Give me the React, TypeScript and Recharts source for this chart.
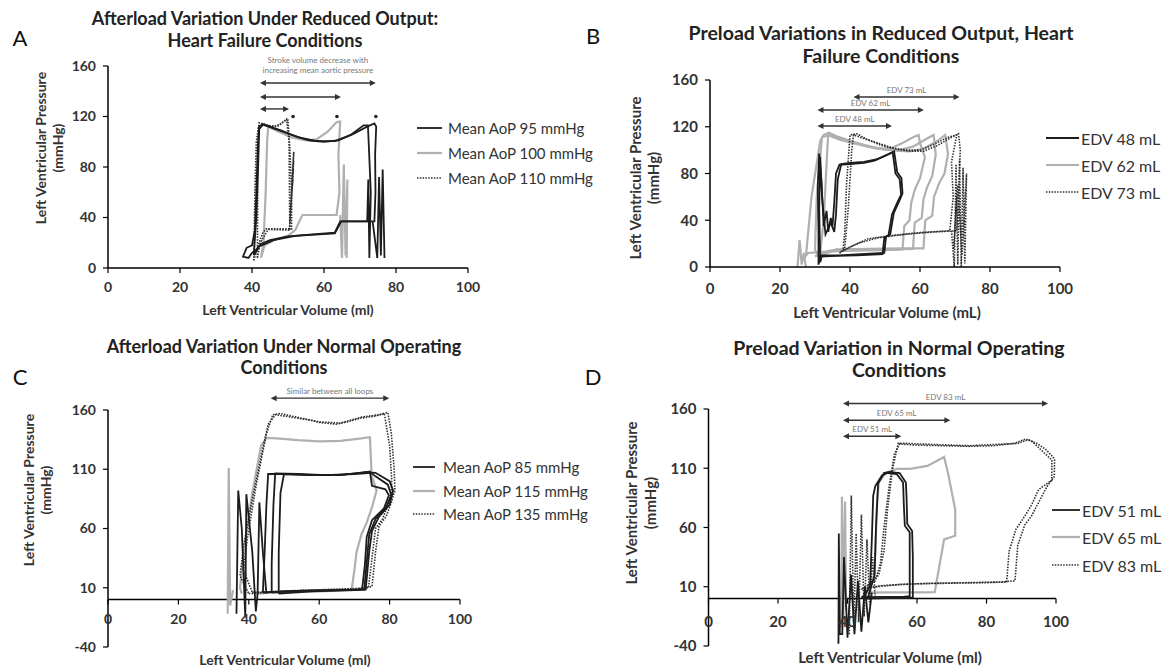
import React from 'react';
import { LineChart, Line, XAxis, YAxis, ReferenceLine, ReferenceDot } from 'recharts';

const FONT = "Lato, 'Open Sans', 'DejaVu Sans', sans-serif";

// ---------- shared axis ticks ----------
const xTicks = [0, 20, 40, 60, 80, 100];
const yTicksHF = [0, 40, 80, 120, 160];
const yTicksNormal = [-40, 10, 60, 110, 160];

// ---------- Panel A: afterload, heart failure ----------
const aAoP95LoopA = [[41,14],[42.5,19],[45,22],[50,25],[56,26.5],[63,28],[64.5,37],[70,37],[74,37],[74.3,60],[74.2,90],[74.5,112],[74,114.5],[72,112],[68,106],[64,101],[60,100],[56,101],[52,104.5],[48,109],[45,112],[43,114],[42,112],[41.6,95],[41.2,60],[40.8,30],[40,18],[38.5,16],[37.5,9],[39,8],[40,12],[41,14]];
const aAoP95LoopB = [[40.5,10],[42,17],[46,22],[52,25.5],[63,27.5],[64.8,37],[72,37],[72.3,70],[72.6,8],[73,60],[72.4,100],[72.2,113],[71,113],[67.5,105.5],[63,100.5],[58,100.5],[53,103.5],[48,108.5],[45,111.5],[43,113.5],[42,110],[41.7,80],[41.2,40],[40.5,10]];
const aAoP95Ripple = [[73.5,37],[74.8,8],[75.3,72],[75.8,10],[76.3,78],[76.8,8]];
const aAoP100Loop = [[42.5,8],[43.5,18],[46,22],[50,25.5],[52,30],[54,42],[63.5,42],[64.3,60],[64,90],[64.5,116],[63.5,115.5],[61,108],[58,102],[55,101],[51,103.5],[47,108.5],[44.5,112],[44.2,100],[43.8,60],[43.2,20],[42.5,8]];
const aAoP100Ripple = [[64.5,42],[65,8],[65.5,82],[66,10],[66.5,70],[66.3,8]];
const aAoP110LoopA = [[40.5,6],[41.5,16],[43,28],[44,31],[51,31],[51,60],[50.5,95],[50,117],[49,116.5],[47,112],[44.5,113],[42,115],[41.2,100],[40.8,60],[40.5,6]];
const aAoP110LoopB = [[41.5,8],[42.3,20],[44.5,30.5],[50.5,30],[50.3,100],[49.6,118],[48,114],[45.5,111.5],[43,114],[41.8,112],[41.6,80],[41.5,8]];
const aAoP110Ripple = [[50.4,30],[51.6,92],[50.5,35],[51.6,85],[50.6,40],[51.5,78],[50.7,48],[51.4,70],[50.8,55]];
const aMarks = [[51.4,120],[63.6,120],[74.4,120]];

// ---------- Panel B: preload, heart failure ----------
const bEdv48LoopA = [[31,2],[31.5,9],[36,9.5],[42,10],[49.3,11],[49.8,25],[51,27],[52,45],[53.5,55],[54.6,62],[54.2,75],[53,80],[52.2,98],[50,95],[47,91],[44,89],[40,88],[37,87.5],[36,80],[35.5,55],[35,35],[34.5,42],[33.8,30],[33.3,48],[32.5,35],[31.8,75],[31.2,97],[30.8,70],[31,30],[31,2]];
const bEdv48LoopB = [[31.5,4],[32,10],[37,10],[43,11],[49.8,12],[50.3,26],[51.5,28],[52.5,46],[54,56],[55,63],[54.7,76],[53.5,81],[52.6,99],[50.5,96],[47.5,92],[44,90],[40,89],[37.5,88],[36.5,75],[36,45],[35.5,30],[34.5,38],[33,28],[32,60],[31.5,94],[31.2,50],[31.5,4]];
const bEdv62LoopA = [[27,8],[28,12],[32,13],[40,14],[50,14.5],[55,15],[55.5,35],[57,40],[57.5,55],[58.5,66],[60,76],[61.4,94],[60,106],[59.6,113],[58,111],[55,106],[52,102],[48,101],[44,104],[40,108],[36,112],[34,115],[32.5,113],[31.5,108],[29,60],[27.5,12],[27,8]];
const bEdv62LoopB = [[30,9],[34,14],[42,14.5],[50,15],[58,15.5],[58.5,38],[60.5,42],[61,58],[62,68],[63.5,78],[64.5,96],[63.9,113],[62,110],[58,103],[54,100],[50,100.5],[46,103],[42,106],[38,109],[35,112],[33.8,114],[33.5,100],[32.5,40],[31.5,12],[30,9]];
const bEdv62LoopC = [[31,9],[36,15],[45,15.5],[55,16],[61,16],[61.5,40],[63.5,44],[64,60],[65.5,72],[67,80],[68,97],[67.2,113],[65,108],[61,101],[57,99],[53,99.5],[49,101],[45,103],[41,106],[37,109],[34,112.5],[32,111],[30.5,60],[30,15],[31,9]];
const bEdv62Spikes = [[25,0],[25.6,23],[26.2,2],[26.8,12],[27.4,0]];
const bEdv73LoopA = [[37,12],[40,17],[45,24],[52,27],[60,29.5],[68.5,31],[69.5,60],[69,90],[70.5,113],[68,111],[64,105],[60,100],[56,100],[52,102],[48,106],[44,110],[41,113],[40.5,100],[39.5,50],[38.5,16],[37,12]];
const bEdv73LoopB = [[38,14],[42,20],[48,25],[56,28],[64,30],[70.5,31],[71,60],[71.5,100],[71,114],[69,111],[65,104],[61,99],[57,99],[53,101],[49,104],[45,109],[42,114],[40,113],[39,70],[38.5,30],[38,14]];
const bEdv73Ripple = [[69,31],[69.8,0],[70.3,88],[70.8,2],[71.3,92],[71.8,0],[72.3,85],[72.8,3],[73.3,80],[72,10],[70.8,70],[69.6,15],[70.5,60]];

// ---------- Panel C: afterload, normal ----------
const cAoP85LoopA = [[44,6],[50,7],[60,7.5],[70,8],[72.2,9],[73,30],[73.5,53],[75,67],[78.4,77],[79.8,88],[78.8,93],[75,96],[74.4,108],[72,107],[65,105],[58,105],[50,106],[45.5,106],[45,80],[44.5,40],[44,6]];
const cAoP85LoopB = [[46.5,6],[55,7.5],[65,8],[72.8,8.5],[73.6,35],[74.2,55],[76,68],[79,78],[80.5,88],[79.5,97],[76,104],[74.8,107],[70,106],[62,105],[54,106],[47.5,106.5],[47,80],[46.5,30],[46.5,6]];
const cAoP85LoopC = [[48.5,5],[58,7],[68,8],[73.2,8.5],[74.2,40],[75,58],[77,70],[80,80],[81,92],[80,100],[76,107],[73,107.5],[66,105],[58,105],[50,106],[49,90],[48.5,40],[48.5,5]];
const cAoP85Spikes = [[36.5,-12],[37,92],[38,60],[39,-15],[39.3,89],[41,40],[42,-10],[42.5,5],[43,82],[44,40],[45,5]];
const cAoP115Loop = [[42,5],[50,6.5],[60,7],[69.2,8],[70,25],[70.6,40],[72,55],[73.5,65],[75,78],[76.3,92],[74.9,105],[74.4,137],[72,136],[66,134],[60,133.5],[54,134.5],[48,136],[45,136.5],[43.5,130],[41,90],[39,50],[37.5,10],[38,5]];
const cAoP115Spike = [[34,-12],[34.3,111],[34.7,-5],[35.5,8]];
const cAoP135LoopA = [[40,5],[50,7],[60,8],[70,9],[74,10],[75,35],[76,60],[78,68],[79.5,80],[80.5,90],[80.6,101],[80,130],[78.5,157],[76,155],[71.6,153],[68,150],[64.9,148],[60,149.5],[57.4,151.5],[52,154],[47.6,156],[45.5,148],[44,128],[41,85],[38.5,45],[37.5,20],[40,5]];
const cAoP135LoopB = [[41,6],[52,7.5],[62,8.5],[72,9.5],[75,11],[76,40],[77,62],[79,70],[80.5,82],[81.5,92],[81.3,110],[80.5,140],[79.5,158],[77,156],[72,154],[66,149],[60,150],[55,153],[49,157],[46.8,156],[45,140],[42,95],[39.5,50],[38.5,25],[41,6]];

// ---------- Panel D: preload, normal ----------
const dEdv51LoopA = [[44,1],[50,1.5],[56,1.5],[57.9,2],[57.9,30],[57.9,56],[56.5,61.5],[56.2,80],[56,98],[54.2,105],[51.5,106],[49.9,104],[48,95],[47.4,87],[47,50],[46.5,11],[45,3],[44,1]];
const dEdv51LoopB = [[45,0],[52,0.5],[57,0.5],[58.8,1],[58.8,35],[58.6,57],[57.2,63],[57,85],[56.8,98],[55,106],[52,107],[50.5,106],[48.8,97],[48.2,60],[47.8,20],[46,2],[45,0]];
const dEdv51Spikes = [[37.4,-38],[37.5,55],[37.8,-30],[38.5,-30],[39,35],[40,-33],[41,20],[42,-30],[43,15],[44,-28],[45,10],[46,-20],[47,5]];
const dEdv65Loop = [[45,5],[52,5.2],[60,5.3],[65.1,5.5],[67.8,50],[71,53],[71,75],[70,90],[69,105],[68,117],[67.8,119.5],[63,112],[58,109.5],[54.2,109.5],[51,106],[49,98],[48.5,80],[48,40],[47.5,15],[45,5]];
const dEdv65Spike = [[38.2,-25],[38.4,86],[38.8,-15],[39.3,82],[39.6,-10]];
const dEdv83LoopA = [[44,8],[50,11],[60,12.5],[70,13],[80,13.5],[85.8,14],[86.5,40],[88.5,58.7],[90,65],[92.8,78],[95,92],[98.8,100],[98.8,117],[95.5,126],[93,133],[91.2,134.7],[88,131],[82,129],[75,128.5],[68,129],[60,129.5],[55,130.5],[53.5,122],[52,95],[50.5,60],[49.5,30],[48,15],[44,8]];
const dEdv83LoopB = [[45,9],[55,12],[65,13],[75,13.5],[84,14],[88.2,15],[89,45],[91,62],[93,70],[95.5,84],[97.5,95],[99.5,103],[99.6,118],[97,126],[94.5,131],[92,134],[89,131],[82,130],[75,129],[65,130],[57,131],[54.6,131],[53,110],[51.5,75],[50.5,40],[49,20],[45,9]];
const dEdv83Spikes = [[40.5,-30],[41.1,87],[41.8,-25],[42.5,55],[43.2,-20],[44,71],[44.8,-15],[45.6,50],[46.4,-5],[47.2,35],[48,0]];

type Pt = { v: number; p: number };
const pts = (a: number[][]): Pt[] => a.map(([v, p]) => ({ v, p }));

type Kind = 'black' | 'gray' | 'dot';
const STYLE: Record<Kind, { stroke: string; strokeWidth: number; strokeDasharray?: string }> = {
  black: { stroke: '#1c1c1c', strokeWidth: 1.8 },
  gray: { stroke: '#b0b0b0', strokeWidth: 2.2 },
  dot: { stroke: '#303030', strokeWidth: 1.6, strokeDasharray: '1.5 1.3' },
};

type Arrow = { from: number; to: number; p: number; label: string[]; dy: number };

type PanelCfg = {
  left: number; top: number; width: number; height: number;
  margin: { top: number; right: number; bottom: number; left: number };
  yDomain: [number, number]; yTicks: number[]; atZero: boolean; xLabelGap: number; tickFontSize: number;
  series: { data: number[][]; kind: Kind }[];
  arrows: Arrow[];
  marks?: number[][];
};

const arrowShape = (label: string[], dy: number) => (props: any) => {
  const { x1, y1, x2 } = props;
  const y = y1;
  const h = 3, w = 6;
  return (
    <g>
      <line x1={x1 + 3} y1={y} x2={x2 - 3} y2={y} stroke="#333" strokeWidth={1.4} />
      <polygon points={`${x1},${y} ${x1 + w},${y - h} ${x1 + w},${y + h}`} fill="#333" />
      <polygon points={`${x2},${y} ${x2 - w},${y - h} ${x2 - w},${y + h}`} fill="#333" />
      {label.map((t, i) => (
        <text key={i} x={(x1 + x2) / 2} y={y + dy - (label.length - 1 - i) * 10} textAnchor="middle"
          fontSize={8} fill="#777" fontFamily={FONT}>{t}</text>
      ))}
    </g>
  );
};

function Panel({ cfg }: { cfg: PanelCfg }) {
  const xAxisH = cfg.atZero ? 20 : 30;
  const plotH = cfg.height - cfg.margin.top - cfg.margin.bottom - xAxisH;
  const [yMin, yMax] = cfg.yDomain;
  const zeroY = cfg.margin.top + (plotH * yMax) / (yMax - yMin);
  const tickFont = { fontSize: cfg.tickFontSize, fontWeight: 700, fill: '#333', fontFamily: FONT };
  const ZeroTick = (props: any) => {
    const { x, payload } = props;
    return (
      <g>
        <line x1={x} x2={x} y1={zeroY} y2={zeroY + 5} stroke="#000" strokeWidth={1.2} />
        <text x={x} y={zeroY + cfg.xLabelGap} textAnchor="middle" dominantBaseline="central" {...tickFont}>
          {payload.value}
        </text>
      </g>
    );
  };
  return (
    <div style={{ position: 'absolute', left: cfg.left, top: cfg.top }}>
      <LineChart width={cfg.width} height={cfg.height} margin={cfg.margin}>
        <XAxis type="number" dataKey="v" domain={[0, 100]} ticks={xTicks} interval={0}
          allowDataOverflow height={xAxisH}
          axisLine={cfg.atZero ? false : { stroke: '#000', strokeWidth: 1.5 }}
          tickLine={cfg.atZero ? false : { stroke: '#000', strokeWidth: 1.2 }}
          tickSize={5} tickMargin={cfg.xLabelGap - 10}
          tick={cfg.atZero ? <ZeroTick /> : tickFont} />
        <YAxis type="number" domain={cfg.yDomain} ticks={cfg.yTicks} interval={0} allowDataOverflow
          width={40} axisLine={{ stroke: '#000', strokeWidth: 1.5 }}
          tickLine={{ stroke: '#000', strokeWidth: 1.2 }} tickSize={5} tickMargin={7} tick={tickFont} />
        {cfg.atZero && <ReferenceLine y={0} stroke="#000" strokeWidth={1.5} />}
        {cfg.series.map((s, i) => (
          <Line key={i} data={pts(s.data)} dataKey="p" type="linear" dot={false}
            isAnimationActive={false} {...STYLE[s.kind]} />
        ))}
        {cfg.arrows.map((a, i) => (
          <ReferenceLine key={'ar' + i} segment={[{ x: a.from, y: a.p }, { x: a.to, y: a.p }]}
            ifOverflow="visible" shape={arrowShape(a.label, a.dy)} />
        ))}
        {(cfg.marks || []).map((m, i) => (
          <ReferenceDot key={'m' + i} x={m[0]} y={m[1]} r={1.8} fill="#222" stroke="none" />
        ))}
      </LineChart>
    </div>
  );
}

const panelA: PanelCfg = {
  left: 0, top: 0, width: 560, height: 330,
  margin: { top: 66, right: 92, bottom: 32, left: 68 },
  yDomain: [0, 160], yTicks: yTicksHF, atZero: false, xLabelGap: 19, tickFontSize: 14,
  series: [
    { data: aAoP100Loop, kind: 'gray' }, { data: aAoP100Ripple, kind: 'gray' },
    { data: aAoP110LoopA, kind: 'dot' }, { data: aAoP110LoopB, kind: 'dot' }, { data: aAoP110Ripple, kind: 'dot' },
    { data: aAoP95LoopA, kind: 'black' }, { data: aAoP95LoopB, kind: 'black' }, { data: aAoP95Ripple, kind: 'black' },
  ],
  arrows: [
    { from: 42.2, to: 74.4, p: 146.5, label: ['Stroke volume decrease with', 'increasing mean aortic pressure'], dy: -10 },
    { from: 42.2, to: 64.7, p: 135.4, label: [], dy: 0 },
    { from: 42.2, to: 50.3, p: 126, label: [], dy: 0 },
  ],
  marks: aMarks,
};

const panelB: PanelCfg = {
  left: 580, top: 0, width: 590, height: 330,
  margin: { top: 80, right: 110, bottom: 33, left: 90 },
  yDomain: [0, 160], yTicks: yTicksHF, atZero: false, xLabelGap: 21, tickFontSize: 15,
  series: [
    { data: bEdv62LoopA, kind: 'gray' }, { data: bEdv62LoopB, kind: 'gray' }, { data: bEdv62LoopC, kind: 'gray' },
    { data: bEdv62Spikes, kind: 'gray' },
    { data: bEdv73LoopA, kind: 'dot' }, { data: bEdv73LoopB, kind: 'dot' }, { data: bEdv73Ripple, kind: 'dot' },
    { data: bEdv48LoopA, kind: 'black' }, { data: bEdv48LoopB, kind: 'black' },
  ],
  arrows: [
    { from: 41, to: 71.3, p: 145.4, label: ['EDV 73 mL'], dy: -4 },
    { from: 30.7, to: 61.1, p: 134.3, label: ['EDV 62 mL'], dy: -4 },
    { from: 30.7, to: 52, p: 120.6, label: ['EDV 48 mL'], dy: -4 },
  ],
};

const panelC: PanelCfg = {
  left: 0, top: 330, width: 580, height: 339,
  margin: { top: 80, right: 120, bottom: 2, left: 68 },
  yDomain: [-40, 160], yTicks: yTicksNormal, atZero: true, xLabelGap: 19, tickFontSize: 14,
  series: [
    { data: cAoP115Loop, kind: 'gray' }, { data: cAoP115Spike, kind: 'gray' },
    { data: cAoP135LoopA, kind: 'dot' }, { data: cAoP135LoopB, kind: 'dot' },
    { data: cAoP85LoopA, kind: 'black' }, { data: cAoP85LoopB, kind: 'black' }, { data: cAoP85LoopC, kind: 'black' },
    { data: cAoP85Spikes, kind: 'black' },
  ],
  arrows: [
    { from: 46.2, to: 79.9, p: 170, label: ['Similar between all  loops'], dy: -4 },
  ],
};

const panelD: PanelCfg = {
  left: 580, top: 330, width: 590, height: 339,
  margin: { top: 79, right: 114, bottom: 3, left: 88.5 },
  yDomain: [-40, 160], yTicks: yTicksNormal, atZero: true, xLabelGap: 22, tickFontSize: 15,
  series: [
    { data: dEdv65Loop, kind: 'gray' }, { data: dEdv65Spike, kind: 'gray' },
    { data: dEdv83LoopA, kind: 'dot' }, { data: dEdv83LoopB, kind: 'dot' }, { data: dEdv83Spikes, kind: 'dot' },
    { data: dEdv51LoopA, kind: 'black' }, { data: dEdv51LoopB, kind: 'black' }, { data: dEdv51Spikes, kind: 'black' },
  ],
  arrows: [
    { from: 38.7, to: 97.7, p: 164.6, label: ['EDV 83 mL'], dy: -4 },
    { from: 38.7, to: 69.6, p: 150.5, label: ['EDV 65 mL'], dy: -4 },
    { from: 38.7, to: 55.5, p: 137, label: ['EDV 51 mL'], dy: -4 },
  ],
};

// ---------- text overlay ----------
const titles: [number, number, string, number][] = [
  [265, 18, 'Afterload Variation Under Reduced Output:', 18], [265, 40, 'Heart Failure Conditions', 18],
  [881, 32, 'Preload Variations in Reduced Output, Heart', 19.5], [881, 55, 'Failure Conditions', 19.5],
  [284, 346, 'Afterload Variation Under Normal Operating', 18], [284, 367, 'Conditions', 18],
  [899, 347, 'Preload Variation in Normal Operating', 19.5], [899, 369, 'Conditions', 19.5],
];
const letters: [number, number, string][] = [[20, 37, 'A'], [593, 35, 'B'], [20, 376, 'C'], [593, 376, 'D']];
const yTitles: [number, number, number, number][] = [[40, 57, 148, 14], [634.5, 653, 178, 15], [28, 45, 490, 14], [631, 649.5, 503, 15]];
const xTitles: [number, number, string, number][] = [
  [288, 309, 'Left Ventricular Volume (ml)', 14], [887, 312, 'Left Ventricular Volume (mL)', 15],
  [285, 659, 'Left Ventricular Volume (ml)', 14], [890, 657, 'Left Ventricular Volume (ml)', 15],
];
type LegendCfg = { x1: number; x2: number; tx: number; ys: number[]; labels: string[]; size: number };
const legends: LegendCfg[] = [
  { x1: 417, x2: 442, tx: 448, ys: [128, 153, 178], labels: ['Mean AoP 95 mmHg', 'Mean AoP 100 mmHg', 'Mean AoP 110 mmHg'], size: 15 },
  { x1: 1046, x2: 1079, tx: 1081, ys: [138, 165, 192], labels: ['EDV 48 mL', 'EDV 62 mL', 'EDV 73  mL'], size: 16 },
  { x1: 413, x2: 435, tx: 443, ys: [467, 491, 514], labels: ['Mean AoP 85 mmHg', 'Mean AoP 115 mmHg', 'Mean AoP 135 mmHg'], size: 15 },
  { x1: 1052, x2: 1080, tx: 1082, ys: [510, 537, 565], labels: ['EDV 51 mL', 'EDV 65 mL', 'EDV 83 mL'], size: 16 },
];
const legendKinds: Kind[] = ['black', 'gray', 'dot'];

function Overlay() {
  return (
    <svg width={1170} height={669} style={{ position: 'absolute', left: 0, top: 0, pointerEvents: 'none' }}
      fontFamily={FONT}>
      {titles.map(([x, y, t, s], i) => (
        <text key={'t' + i} x={x} y={y} textAnchor="middle" dominantBaseline="central"
          fontSize={s} fontWeight={700} fill="#222">{t}</text>
      ))}
      {letters.map(([x, y, t], i) => (
        <text key={'l' + i} x={x} y={y} textAnchor="middle" dominantBaseline="central"
          fontSize={22} fill="#111">{t}</text>
      ))}
      {yTitles.map(([x1, x2, cy, s], i) => (
        <g key={'y' + i}>
          <text x={x1} y={cy} textAnchor="middle" dominantBaseline="central" fontSize={s} fontWeight={700}
            fill="#333" transform={`rotate(-90 ${x1} ${cy})`}>Left Ventricular Pressure</text>
          <text x={x2} y={cy} textAnchor="middle" dominantBaseline="central" fontSize={s} fontWeight={700}
            fill="#333" transform={`rotate(-90 ${x2} ${cy})`}>(mmHg)</text>
        </g>
      ))}
      {xTitles.map(([x, y, t, s], i) => (
        <text key={'x' + i} x={x} y={y} textAnchor="middle" dominantBaseline="central"
          fontSize={s} fontWeight={700} fill="#333">{t}</text>
      ))}
      {legends.map((lg, i) => (
        <g key={'lg' + i}>
          {lg.ys.map((y, j) => (
            <g key={j}>
              <line x1={lg.x1} x2={lg.x2} y1={y} y2={y} {...STYLE[legendKinds[j]]} />
              <text x={lg.tx} y={y} dominantBaseline="central" fontSize={lg.size} fill="#333">{lg.labels[j]}</text>
            </g>
          ))}
        </g>
      ))}
    </svg>
  );
}

export default function App() {
  return (
    <div style={{ position: 'absolute', left: 0, top: 0, width: 1170, height: 669, background: '#fff', fontFamily: FONT }}>
      <Panel cfg={panelA} />
      <Panel cfg={panelB} />
      <Panel cfg={panelC} />
      <Panel cfg={panelD} />
      <Overlay />
    </div>
  );
}
